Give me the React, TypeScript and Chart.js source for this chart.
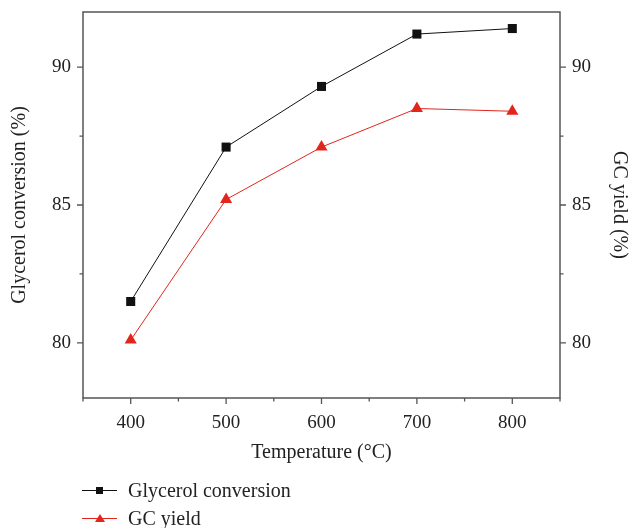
import React, { useEffect, useRef } from "react";
import { Chart, registerables } from "chart.js";

Chart.register(...registerables);

const temperatures = [400, 500, 600, 700, 800];
const glycerolConversion = [81.5, 87.1, 89.3, 91.2, 91.4];
const gcYield = [80.1, 85.2, 87.1, 88.5, 88.4];
const xTickLabels = [400, 500, 600, 700, 800];
const yTickLabels = [80, 85, 90];
const xMinorTicks = [350, 450, 550, 650, 750, 850];
const yMinorTicks = [82.5, 87.5];

const FONT = "'Liberation Serif', 'Times New Roman', serif";
const AXIS_COLOR = "#555";
const TEXT_COLOR = "#222";
const RED = "#e2261c";

const framePlugin = {
  id: "frame",
  afterDraw(chart: any) {
    const { ctx, chartArea } = chart;
    const { left, right, top, bottom } = chartArea;
    const xs = chart.scales.x;
    const ys = chart.scales.y;
    ctx.save();
    ctx.strokeStyle = AXIS_COLOR;
    ctx.lineWidth = 1.5;
    ctx.strokeRect(left, top, right - left, bottom - top);
    ctx.lineWidth = 1.3;
    const major = 6;
    const minor = 3.5;
    ctx.beginPath();
    for (const v of xTickLabels) {
      const px = xs.getPixelForValue(v);
      ctx.moveTo(px, bottom);
      ctx.lineTo(px, bottom + major);
    }
    for (const v of xMinorTicks) {
      const px = xs.getPixelForValue(v);
      ctx.moveTo(px, bottom);
      ctx.lineTo(px, bottom + minor);
    }
    for (const v of yTickLabels) {
      const py = ys.getPixelForValue(v);
      ctx.moveTo(left, py);
      ctx.lineTo(left - major, py);
      ctx.moveTo(right, py);
      ctx.lineTo(right + major, py);
    }
    for (const v of yMinorTicks) {
      const py = ys.getPixelForValue(v);
      ctx.moveTo(left, py);
      ctx.lineTo(left - minor, py);
      ctx.moveTo(right, py);
      ctx.lineTo(right + minor, py);
    }
    ctx.stroke();
    ctx.restore();
  },
};

const fitVertical = (width: number) => (s: any) => {
  s.width = width;
  s.paddingTop = 0;
  s.paddingBottom = 0;
};

export default function App() {
  const ref = useRef<HTMLCanvasElement | null>(null);

  useEffect(() => {
    if (!ref.current) return;
    const chart = new Chart(ref.current, {
      type: "line",
      data: {
        datasets: [
          {
            label: "Glycerol conversion",
            data: temperatures.map((t, i) => ({ x: t, y: glycerolConversion[i] })),
            borderColor: "#111",
            backgroundColor: "#111",
            borderWidth: 1,
            pointStyle: "rect",
            pointRadius: 6.4,
            pointBorderWidth: 0,
            yAxisID: "y",
          },
          {
            label: "GC yield",
            data: temperatures.map((t, i) => ({ x: t, y: gcYield[i] })),
            borderColor: RED,
            backgroundColor: RED,
            borderWidth: 1,
            pointStyle: "triangle",
            pointRadius: 7,
            pointBorderWidth: 0,
            yAxisID: "y1",
          },
        ],
      },
      options: {
        animation: false,
        responsive: false,
        maintainAspectRatio: false,
        layout: { padding: { top: 12, bottom: 63, left: 0, right: 0 } },
        plugins: { legend: { display: false }, tooltip: { enabled: false } },
        scales: {
          x: {
            type: "linear",
            min: 350,
            max: 850,
            grid: { display: false, drawTicks: false },
            border: { display: false },
            afterBuildTicks: (s: any) => {
              s.ticks = xTickLabels.map((v) => ({ value: v }));
            },
            afterFit: (s: any) => {
              s.height = 528 - 398 - 63;
              s.paddingLeft = 0;
              s.paddingRight = 0;
            },
            ticks: {
              padding: 14,
              color: TEXT_COLOR,
              font: { family: FONT, size: 19 },
              maxRotation: 0,
            },
            title: {
              display: true,
              text: "Temperature (°C)",
              color: TEXT_COLOR,
              font: { family: FONT, size: 20 },
              padding: { top: 0, bottom: 0 },
            },
          },
          y: {
            type: "linear",
            position: "left",
            min: 78,
            max: 92,
            grid: { display: false, drawTicks: false },
            border: { display: false },
            afterBuildTicks: (s: any) => {
              s.ticks = yTickLabels.map((v) => ({ value: v }));
            },
            afterFit: fitVertical(83),
            ticks: {
              padding: 12,
              color: TEXT_COLOR,
              font: { family: FONT, size: 19 },
            },
            title: {
              display: true,
              text: "Glycerol conversion (%)",
              color: TEXT_COLOR,
              font: { family: FONT, size: 20 },
              padding: { top: 8, bottom: 0 },
            },
          },
          y1: {
            type: "linear",
            position: "right",
            min: 78,
            max: 92,
            grid: { display: false, drawTicks: false },
            border: { display: false },
            afterBuildTicks: (s: any) => {
              s.ticks = yTickLabels.map((v) => ({ value: v }));
            },
            afterFit: fitVertical(631 - 560),
            ticks: {
              padding: 12,
              color: TEXT_COLOR,
              font: { family: FONT, size: 19 },
            },
            title: {
              display: true,
              text: "GC yield (%)",
              color: TEXT_COLOR,
              font: { family: FONT, size: 20 },
              padding: { top: 0, bottom: 0 },
            },
          },
        },
      },
      plugins: [framePlugin],
    } as any);
    return () => chart.destroy();
  }, []);

  const legendRow = (label: string, color: string, marker: React.ReactNode, top: number) => (
    <div
      style={{
        position: "absolute",
        left: 82,
        top,
        height: 24,
        display: "flex",
        alignItems: "center",
        fontFamily: FONT,
        fontSize: 20,
        color: TEXT_COLOR,
        whiteSpace: "nowrap",
      }}
    >
      <div style={{ position: "relative", width: 35, height: 24, marginRight: 11, flex: "none" }}>
        <div
          style={{
            position: "absolute",
            left: 0,
            top: 11.5,
            width: 35,
            height: 1,
            background: color,
          }}
        />
        {marker}
      </div>
      <span>{label}</span>
    </div>
  );

  return (
    <div style={{ position: "absolute", left: 0, top: 0, width: 631, height: 528, background: "#fff" }}>
      <canvas ref={ref} width={631} height={528} style={{ display: "block" }} />
      {legendRow(
        "Glycerol conversion",
        "#111",
        <div
          style={{ position: "absolute", left: 14, top: 8.5, width: 7, height: 7, background: "#111" }}
        />,
        478
      )}
      {legendRow(
        "GC yield",
        RED,
        <div
          style={{
            position: "absolute",
            left: 12.5,
            top: 8,
            width: 0,
            height: 0,
            borderLeft: "5px solid transparent",
            borderRight: "5px solid transparent",
            borderBottom: `8px solid ${RED}`,
          }}
        />,
        506
      )}
    </div>
  );
}
